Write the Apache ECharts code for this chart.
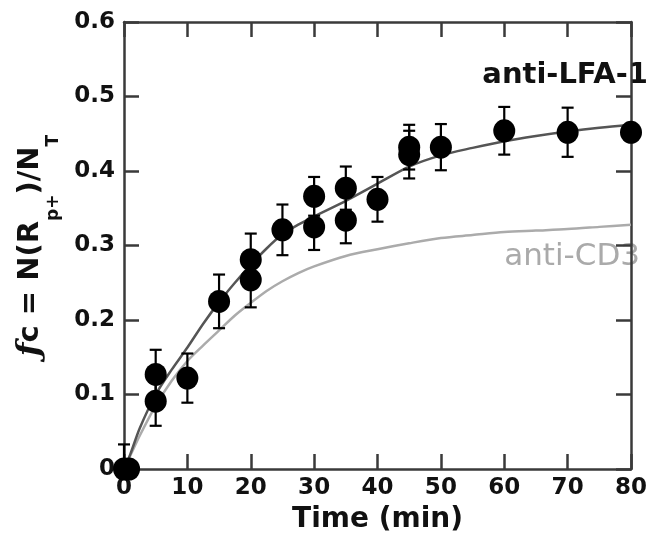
<!DOCTYPE html>
<html><head><meta charset="utf-8">
<script src="https://cdn.jsdelivr.net/npm/echarts@6/dist/echarts.min.js"></script>
<style>html,body{margin:0;padding:0;background:#fff}#c{width:664px;height:541px}</style>
</head><body><div id="c"></div>
<script>
// anti-LFA-1 measured points: time (min), fc, error
const lfaTimes  = [0, 0.8, 5, 5, 10, 15, 20, 20, 25, 30, 30, 35, 35, 40, 45, 45, 50, 60, 70, 80];
const lfaValues = [0, 0, 0.127, 0.091, 0.122, 0.225, 0.281, 0.254, 0.321, 0.366, 0.325, 0.377, 0.334, 0.362, 0.432, 0.422, 0.432, 0.454, 0.452, 0.452];
const lfaErrors = [0.033, 0, 0.033, 0.033, 0.033, 0.036, 0.035, 0.037, 0.034, 0.026, 0.031, 0.029, 0.031, 0.030, 0.030, 0.032, 0.031, 0.032, 0.033, 0];

// fitted curves
const fitTimes = [0, 1, 2.5, 5, 7.5, 10, 12.5, 15, 17.5, 20, 22.5, 25, 27.5, 30, 35, 40, 45, 50, 55, 60, 65, 70, 75, 80];
const lfaFit   = [0, 0.02, 0.055, 0.1, 0.133, 0.163, 0.195, 0.224, 0.25, 0.274, 0.296, 0.315, 0.328, 0.339, 0.36, 0.383, 0.406, 0.421, 0.431, 0.44, 0.447, 0.453, 0.458, 0.462];
const cd3Fit   = [0, 0.018, 0.045, 0.085, 0.118, 0.145, 0.166, 0.186, 0.206, 0.223, 0.239, 0.252, 0.263, 0.272, 0.286, 0.295, 0.303, 0.31, 0.314, 0.318, 0.32, 0.322, 0.325, 0.328];

const xTickValues = [0, 10, 20, 30, 40, 50, 60, 70, 80];
const yTickValues = [0, 0.1, 0.2, 0.3, 0.4, 0.5, 0.6];
const labelLFA = 'anti-LFA-1';
const labelCD3 = 'anti-CD3';

const FONT = 'DejaVu Sans';
const axisCol = '#3a3a3a';

const chart = echarts.init(document.getElementById('c'), null, {renderer: 'canvas'});

const pts = lfaTimes.map((t, i) => [t, lfaValues[i], lfaErrors[i]]);

function baseAxis() {
  return {
    axisLine: {show: true, onZero: false, lineStyle: {color: axisCol, width: 2.5}},
    axisTick: {show: true, inside: true, length: 15, lineStyle: {color: axisCol, width: 2.5}},
    splitLine: {show: false}
  };
}

chart.setOption({
  animation: false,
  backgroundColor: '#ffffff',
  grid: {left: 124, right: 33, top: 22, bottom: 72, containLabel: false},
  xAxis: [
    Object.assign(baseAxis(), {
      type: 'value', min: 0, max: 80, interval: 10, position: 'bottom',
      axisLabel: {show: true, margin: 8, color: '#111', fontFamily: FONT, fontWeight: 'bold', fontSize: 23,
        formatter: v => xTickValues.includes(v) ? String(v) : ''},
      name: 'Time (min)', nameLocation: 'middle', nameGap: 37,
      nameTextStyle: {color: '#111', fontFamily: FONT, fontWeight: 'bold', fontSize: 28}
    }),
    Object.assign(baseAxis(), {
      type: 'value', min: 0, max: 80, interval: 10, position: 'top',
      axisLabel: {show: false}
    })
  ],
  yAxis: [
    Object.assign(baseAxis(), {
      type: 'value', min: 0, max: 0.6, interval: 0.1, position: 'left',
      axisLabel: {show: true, margin: 9, color: '#111', fontFamily: FONT, fontWeight: 'bold', fontSize: 23,
        formatter: v => { const t = yTickValues.find(k => Math.abs(k - v) < 1e-9); return t === undefined ? '' : (t === 0 ? '0' : t.toFixed(1)); }},
      name: '{f|ƒ}{n|c = N(R}{s|p+}{n|)/N}{s|T}',
      nameLocation: 'middle', nameGap: 62, nameRotate: 90,
      nameTextStyle: {
        color: '#111',
        rich: {
          f: {fontFamily: 'DejaVu Serif', fontStyle: 'italic', fontWeight: 'bold', fontSize: 32, color: '#111'},
          n: {fontFamily: FONT, fontWeight: 'bold', fontSize: 29, color: '#111'},
          s: {fontFamily: FONT, fontWeight: 'bold', fontSize: 17, color: '#111', padding: [46, 0, 0, 0]}
        }
      }
    }),
    Object.assign(baseAxis(), {
      type: 'value', min: 0, max: 0.6, interval: 0.1, position: 'right',
      axisLabel: {show: false}
    })
  ],
  series: [
    {
      name: labelCD3, type: 'line', data: fitTimes.map((t, i) => [t, cd3Fit[i]]),
      showSymbol: false, smooth: 0.3, lineStyle: {color: '#ababab', width: 2.5}, z: 1
    },
    {
      name: labelLFA + ' fit', type: 'line', data: fitTimes.map((t, i) => [t, lfaFit[i]]),
      showSymbol: false, smooth: 0.3, lineStyle: {color: '#555555', width: 2.5}, z: 2
    },
    {
      name: 'errors', type: 'custom', z: 3,
      data: pts,
      encode: {x: 0, y: 1},
      renderItem: function (params, api) {
        const x = api.value(0), y = api.value(1), e = api.value(2);
        if (!e) return null;
        const top = api.coord([x, y + e]);
        const bot = api.coord([x, Math.max(0, y - e)]);
        const hw = 6;
        const st = {stroke: '#000', lineWidth: 2.2};
        const children = [
          {type: 'line', shape: {x1: top[0], y1: top[1], x2: bot[0], y2: bot[1]}, style: st},
          {type: 'line', shape: {x1: top[0] - hw, y1: top[1], x2: top[0] + hw, y2: top[1]}, style: st}
        ];
        if (y - e > 0) children.push({type: 'line', shape: {x1: bot[0] - hw, y1: bot[1], x2: bot[0] + hw, y2: bot[1]}, style: st});
        return {type: 'group', children: children};
      }
    },
    {
      name: labelLFA, type: 'scatter', z: 4,
      data: pts.map(p => [p[0], p[1]]),
      symbol: 'circle', symbolSize: [22, 23],
      itemStyle: {color: '#000', opacity: 1}
    }
  ],
  graphic: [
    {type: 'text', right: 16, top: 61, style: {text: labelLFA, fill: '#111', font: 'bold 29px "DejaVu Sans"'}},
    {type: 'text', right: 24, top: 241, style: {text: labelCD3, fill: '#aaaaaa', font: '31px "DejaVu Sans"'}}
  ]
});
</script>
</body></html>
